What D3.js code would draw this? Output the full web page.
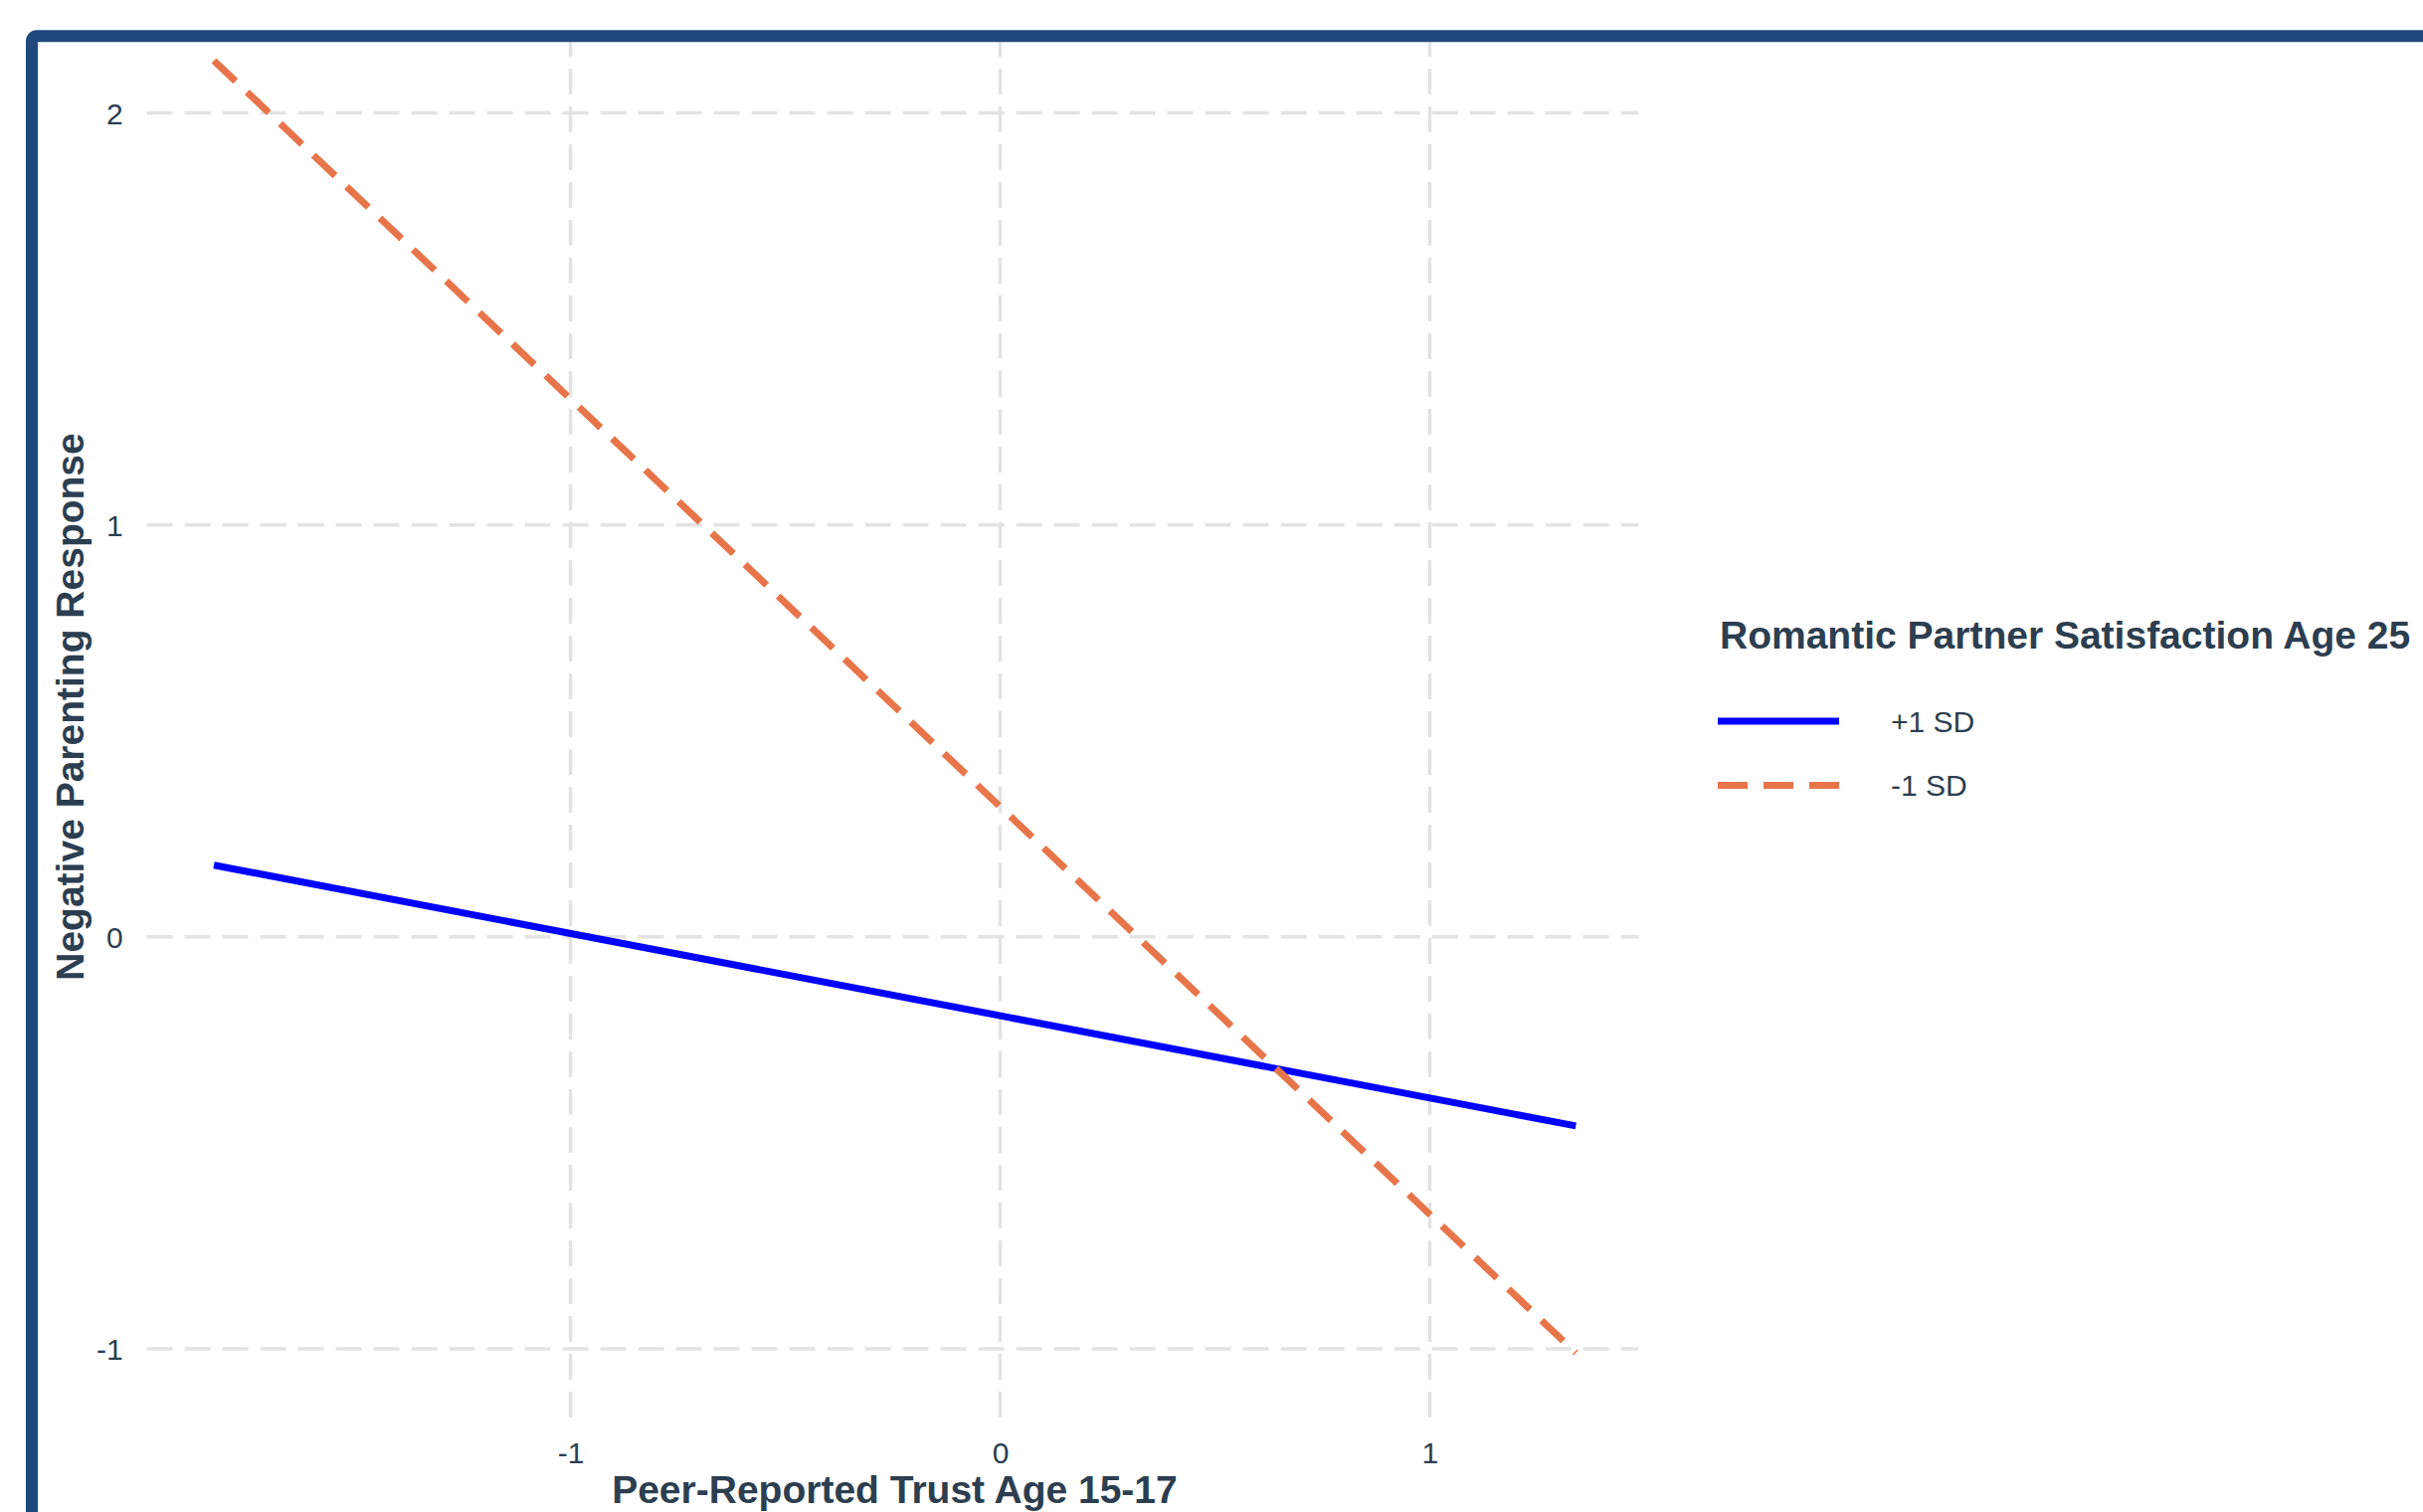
<!DOCTYPE html>
<html>
<head>
<meta charset="utf-8">
<script src="https://cdn.jsdelivr.net/npm/d3@7/dist/d3.min.js"></script>
<style>
  html, body { margin: 0; padding: 0; background: #ffffff; }
  svg { display: block; }
  text { font-family: "Liberation Sans", Arial, Helvetica, sans-serif; }
</style>
</head>
<body>
<svg id="chart" width="2436" height="1520"></svg>
<script>
// ---- data ----
const trustX = [-1.83, 1.34];                 // Peer-Reported Trust Age 15-17
const plusSD = [0.174, -0.459];               // +1 SD romantic partner satisfaction
const minusSD = [2.127, -1.01];               // -1 SD romantic partner satisfaction
const seriesNames = ["+1 SD", "-1 SD"];
const xTicks = [-1, 0, 1];
const yTicks = [-1, 0, 1, 2];
const xTitle = "Peer-Reported Trust Age 15-17";
const yTitle = "Negative Parenting Response";
const legendTitle = "Romantic Partner Satisfaction Age 25";

// ---- styles ----
const colors = { "+1 SD": "#0000FF", "-1 SD": "#E8754A" };
const dashes = { "+1 SD": null, "-1 SD": "30,16" };
const textColor = "#2C3E50";
const gridColor = "#E3E3E3";
const borderColor = "#1F497D";

const svg = d3.select("#chart");

const series = [
  { name: seriesNames[0], values: trustX.map((x, i) => ({ x, y: plusSD[i] })) },
  { name: seriesNames[1], values: trustX.map((x, i) => ({ x, y: minusSD[i] })) }
];

function expand(ext, f) {
  const d = (ext[1] - ext[0]) * f;
  return [ext[0] - d, ext[1] + d];
}
const xExt = d3.extent(trustX);
const yExt = d3.extent(plusSD.concat(minusSD));

const panel = { left: 146.6, right: 1652.7, top: -4, bottom: 1425 };
const gridSpan = { left: 147.6, right: 1647.3 };
const x = d3.scaleLinear().domain(expand(xExt, 0.05)).range([panel.left, panel.right]);
const y = d3.scaleLinear().domain(expand(yExt, 0.05)).range([panel.bottom, panel.top]);

const fmt = d => String(d);  // plain hyphen-minus like the reference

// clip to inside of border
const defs = svg.append("defs");
defs.append("clipPath").attr("id", "inner")
  .append("rect").attr("x", 38).attr("y", 42.5).attr("width", 2500).attr("height", 1600);

const g = svg.append("g").attr("clip-path", "url(#inner)");

// gridlines
g.append("g").selectAll("line.h").data(yTicks).join("line")
  .attr("x1", gridSpan.left).attr("x2", gridSpan.right)
  .attr("y1", d => y(d)).attr("y2", d => y(d))
  .attr("stroke", gridColor).attr("stroke-width", 3.5)
  .attr("stroke-dasharray", "26,12");
g.append("g").selectAll("line.v").data(xTicks).join("line")
  .attr("x1", d => x(d)).attr("x2", d => x(d))
  .attr("y1", panel.bottom).attr("y2", panel.top)
  .attr("stroke", gridColor).attr("stroke-width", 3.5)
  .attr("stroke-dasharray", "26,12");

// axes (labels only, via d3 axis)
const xAxis = d3.axisBottom(x).tickValues(xTicks).tickSize(0).tickPadding(0).tickFormat(fmt);
const xa = g.append("g").attr("transform", `translate(0,${panel.bottom})`).call(xAxis);
xa.select(".domain").remove();
xa.selectAll("text").attr("y", 46).attr("dy", null)
  .attr("font-size", 30).attr("fill", textColor)
  .attr("font-family", "Liberation Sans, Arial, sans-serif");

const yAxis = d3.axisLeft(y).tickValues(yTicks).tickSize(0).tickPadding(0).tickFormat(fmt);
const ya = g.append("g").attr("transform", `translate(${panel.left},0)`).call(yAxis);
ya.select(".domain").remove();
ya.selectAll("text").attr("x", -23).attr("dy", "0.36em")
  .attr("font-size", 30).attr("fill", textColor)
  .attr("font-family", "Liberation Sans, Arial, sans-serif");

// lines
const line = d3.line().x(d => x(d.x)).y(d => y(d.y));
g.append("g").selectAll("path").data(series).join("path")
  .attr("d", d => line(d.values))
  .attr("fill", "none")
  .attr("stroke", d => colors[d.name])
  .attr("stroke-width", 7)
  .attr("stroke-dasharray", d => dashes[d.name]);

// axis titles
svg.append("text")
  .attr("x", (gridSpan.left + gridSpan.right) / 2 + 2).attr("y", 1511)
  .attr("text-anchor", "middle").attr("font-size", 39).attr("font-weight", "bold")
  .attr("fill", textColor).text(xTitle);
svg.append("text")
  .attr("transform", `translate(84,${(panel.top + panel.bottom) / 2}) rotate(-90)`)
  .attr("text-anchor", "middle").attr("font-size", 39).attr("font-weight", "bold")
  .attr("fill", textColor).text(yTitle);

// legend
const lg = svg.append("g");
lg.append("text").attr("x", 1729).attr("y", 652)
  .attr("font-size", 39).attr("font-weight", "bold").attr("fill", textColor)
  .text(legendTitle);
const keyY = [725, 789.5];
const items = lg.selectAll("g.item").data(series).join("g")
  .attr("transform", (d, i) => `translate(0,${keyY[i]})`);
items.append("line")
  .attr("x1", 1727).attr("x2", 1849).attr("y1", 0).attr("y2", 0)
  .attr("stroke", d => colors[d.name]).attr("stroke-width", 7)
  .attr("stroke-dasharray", d => dashes[d.name]);
items.append("text").attr("x", 1901).attr("y", 0).attr("dy", "0.36em")
  .attr("font-size", 30).attr("fill", textColor).text(d => d.name);

// border (rounded, extending off canvas)
svg.append("rect")
  .attr("x", 32).attr("y", 36.3).attr("width", 2600).attr("height", 1700)
  .attr("rx", 5).attr("fill", "none")
  .attr("stroke", borderColor).attr("stroke-width", 12);
</script>
</body>
</html>
